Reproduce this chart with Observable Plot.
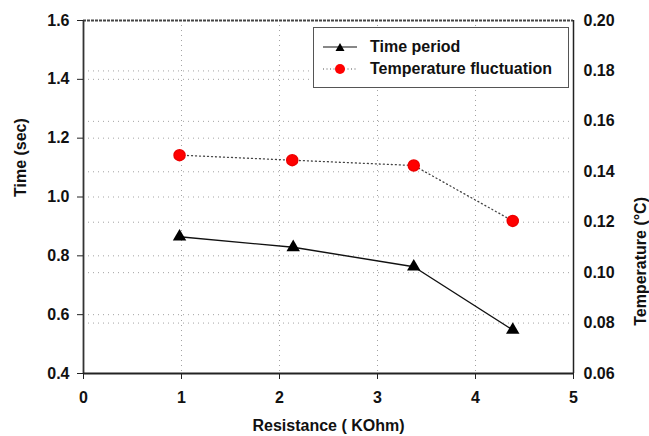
<!DOCTYPE html>
<html>
<head>
<meta charset="utf-8">
<script src="https://cdn.jsdelivr.net/npm/d3@7"></script>
<script src="https://cdn.jsdelivr.net/npm/@observablehq/plot@0.6"></script>
<style>
  html, body { margin: 0; padding: 0; background: #fff; }
  #wrap { position: relative; width: 649px; height: 436px; font-family: "Liberation Sans", Arial, sans-serif; }
  #legend { position: absolute; left: 313px; top: 27px; width: 254px; height: 59px; border: 1px solid #555; background: #fff; }
  .row { position: absolute; left: 0; height: 20px; display: flex; align-items: center; font-weight: bold; font-size: 16px; color: #111; }
  .row svg { margin-left: 9px; margin-right: 13px; }
</style>
</head>
<body>
<div id="wrap"></div>
<script>
// Data
const resistance = [0.98, 2.14, 3.37, 4.38];
const timePeriod = [0.865, 0.829, 0.763, 0.548];
const tempResistance = [0.98, 2.13, 3.37, 4.38];
const tempFluct = [0.1466, 0.1446, 0.1425, 0.1205];

const xTicks = [0, 1, 2, 3, 4, 5];
const leftTicks = [0.4, 0.6, 0.8, 1.0, 1.2, 1.4, 1.6];
const rightTicks = [0.06, 0.08, 0.10, 0.12, 0.14, 0.16, 0.18, 0.20];

// map temperature domain [0.06,0.20] onto time domain [0.4,1.6]
const toLeft = t => 0.4 + (t - 0.06) / 0.14 * 1.2;
const fromLeft = v => 0.06 + (v - 0.4) / 1.2 * 0.14;

const timeData = resistance.map((x, i) => ({x, y: timePeriod[i]}));
const tempData = tempResistance.map((x, i) => ({x, y: toLeft(tempFluct[i])}));

const font = "Liberation Sans, Arial, sans-serif";

const chart = Plot.plot({
  width: 649,
  height: 436,
  marginLeft: 83,
  marginRight: 76,
  marginTop: 20,
  marginBottom: 63,
  style: {fontFamily: font, fontSize: "16px", fontWeight: "bold", color: "#111", background: "white"},
  x: {domain: [0, 5]},
  y: {domain: [0.4, 1.6]},
  marks: [
    // grid lines (left and right tick sets, vertical at x ticks)
    Plot.gridY(leftTicks.slice(1, -1), {stroke: "#999", strokeOpacity: 0.9, strokeDasharray: "1,4", strokeWidth: 1}),
    Plot.gridY(rightTicks.slice(1, -1).map(toLeft), {stroke: "#999", strokeOpacity: 0.9, strokeDasharray: "1,4", strokeWidth: 1}),
    Plot.gridX(xTicks.slice(1, -1), {stroke: "#999", strokeOpacity: 0.9, strokeDasharray: "1,4", strokeWidth: 1}),
    // frame
    Plot.ruleY([1.6], {stroke: "#444", strokeDasharray: "3,1", strokeWidth: 2}),
    Plot.ruleX([0], {stroke: "#333", strokeWidth: 1.8}),
    Plot.ruleX([5], {stroke: "#222", strokeWidth: 1.5}),
    Plot.ruleY([0.4], {stroke: "#222", strokeWidth: 1.8}),
    // axes
    Plot.axisX(xTicks, {tickSize: 6, tickPadding: 12, fontSize: 16, fontWeight: "bold", label: null, stroke: "#222", fill: "#111"}),
    Plot.axisY(leftTicks, {anchor: "left", tickSize: 6, tickPadding: 8, fontSize: 16, fontWeight: "bold", label: null, tickFormat: d => d.toFixed(1), stroke: "#222", fill: "#111"}),
    Plot.axisY(rightTicks.map(toLeft), {anchor: "right", tickSize: 0, tickPadding: 10, fontSize: 16, fontWeight: "bold", label: null, tickFormat: d => fromLeft(d).toFixed(2), fill: "#111"}),
    // axis titles
    Plot.text(["Time (sec)"], {frameAnchor: "left", dx: -63, rotate: -90, fontWeight: "bold", fontSize: 16, fill: "#111"}),
    Plot.text(["Temperature (°C)"], {frameAnchor: "right", dx: 67, rotate: -90, fontWeight: "bold", fontSize: 16, fill: "#111"}),
    Plot.text(["Resistance ( KOhm)"], {frameAnchor: "bottom", dy: 57, fontWeight: "bold", fontSize: 16, fill: "#111"}),
    // series
    Plot.line(tempData, {x: "x", y: "y", stroke: "#444", strokeWidth: 1.3, strokeDasharray: "1,3"}),
    Plot.dot(tempData, {x: "x", y: "y", r: 5.5, fill: "#f00", stroke: "#e00"}),
    Plot.line(timeData, {x: "x", y: "y", stroke: "#111", strokeWidth: 1.4}),
    Plot.dot(timeData, {x: "x", y: "y", symbol: "triangle", r: 5, fill: "#000"})
  ]
});

const wrap = document.getElementById("wrap");
wrap.appendChild(chart);

const legend = document.createElement("div");
legend.id = "legend";
legend.innerHTML = `
  <div class="row" style="top:9px">
    <svg width="34" height="12"><line x1="0" y1="6" x2="34" y2="6" stroke="#111" stroke-width="1.2"/><path d="M17,2 L21.5,10 L12.5,10 Z" fill="#000"/></svg>
    <span>Time period</span>
  </div>
  <div class="row" style="top:31px">
    <svg width="34" height="12"><line x1="0" y1="6" x2="34" y2="6" stroke="#555" stroke-width="1.2" stroke-dasharray="1,2.5"/><circle cx="17" cy="6" r="5" fill="#f00"/></svg>
    <span>Temperature fluctuation</span>
  </div>`;
wrap.appendChild(legend);
</script>
</body>
</html>
